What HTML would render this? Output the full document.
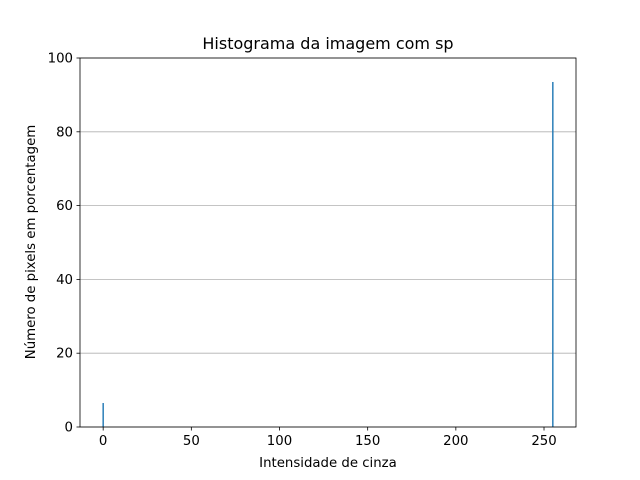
<!DOCTYPE html>
<html><head><meta charset="utf-8"><style>body{margin:0;background:#fff}svg{display:block;font-family:"DejaVu Sans","Liberation Sans",sans-serif}</style></head>
<body>
<svg id="c" width="640" height="480"></svg>
<script>
const categories=[0,255];
const values=[6.5,93.5];
const xTicks=[0,50,100,150,200,250];
const yTicks=[0,20,40,60,80,100];
const L=80,R=576,T=58,B=427,xmin=-13.14,xmax=268.14,ymin=0,ymax=100;
const X=v=>L+(v-xmin)/(xmax-xmin)*(R-L);
const Y=v=>B-(v-ymin)/(ymax-ymin)*(B-T);
const svg=document.getElementById('c');const NS='http://www.w3.org/2000/svg';
function mk(t,a,p){const e=document.createElementNS(NS,t);for(const k in a)e.setAttribute(k,a[k]);(p||svg).appendChild(e);return e;}
yTicks.forEach(v=>{
const g=mk('line',{x1:L,x2:R,y1:Y(v),y2:Y(v),stroke:'#b0b0b0','stroke-width':0.8});


const t=mk('line',{x1:L-3.5,x2:L,y1:Y(v),y2:Y(v),stroke:'#000','stroke-width':0.8});


const l=mk('text',{x:L-7,y:Y(v)+4.5,'text-anchor':'end','font-size':13.3});l.textContent=v;


});
categories.forEach((c,i)=>{
const w=0.8;const r=mk('rect',{x:X(c-w/2),y:Y(values[i]),width:X(c+w/2)-X(c-w/2),height:Y(0)-Y(values[i]),fill:'#1f77b4'});


});
xTicks.forEach(v=>{
const t=mk('line',{x1:X(v),x2:X(v),y1:B,y2:B+3.5,stroke:'#000','stroke-width':0.8});


const l=mk('text',{x:X(v),y:B+18,'text-anchor':'middle','font-size':13.3});l.textContent=v;


});
const f=mk('rect',{x:L,y:T,width:R-L,height:B-T,fill:'none',stroke:'#000','stroke-width':0.8});


</script>
<svg style="position:absolute;left:0;top:0" width="640" height="480">
<text x="328" y="49" text-anchor="middle" font-size="16">Histograma da imagem com sp</text>
<text x="328" y="467" text-anchor="middle" font-size="13.3">Intensidade de cinza</text>
<text transform="translate(35,242) rotate(-90)" text-anchor="middle" font-size="13.3">Número de pixels em porcentagem</text>
</svg>
</body></html>
